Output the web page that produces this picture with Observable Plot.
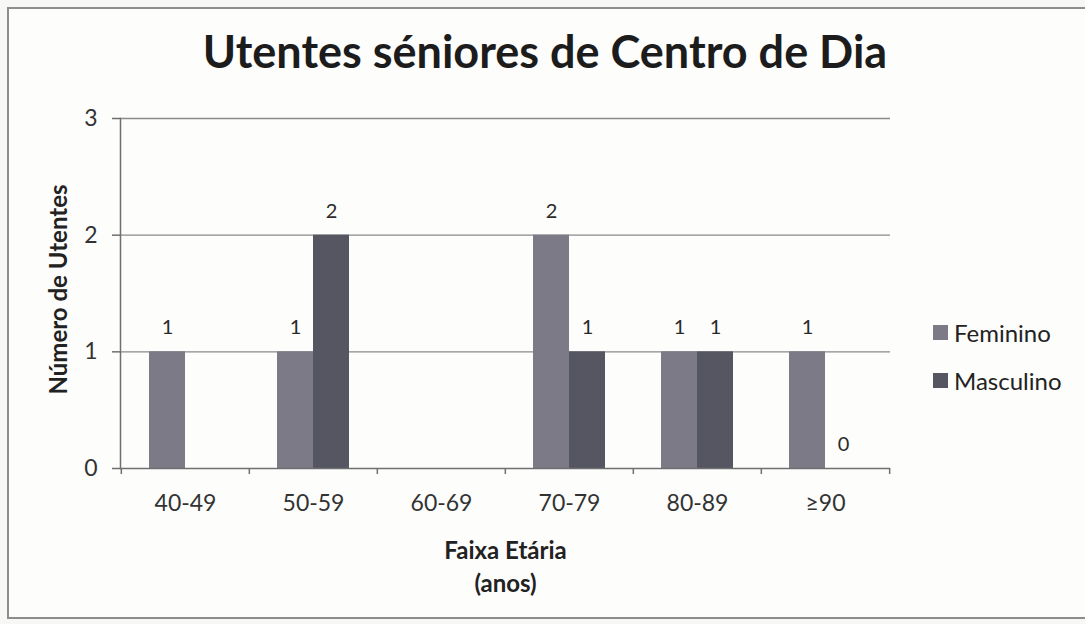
<!DOCTYPE html>
<html>
<head>
<meta charset="utf-8">
<script src="https://cdn.jsdelivr.net/npm/d3@7"></script>
<script src="https://cdn.jsdelivr.net/npm/@observablehq/plot@0.6"></script>
<style>
  html, body { margin: 0; padding: 0; background: #f7f7f6; }
  #wrap { position: relative; width: 1085px; height: 624px; overflow: hidden; background: #f7f7f6; font-family: Lato, "Open Sans", sans-serif; }
  #frame { position: absolute; left: 7px; top: 7px; width: 1090px; height: 612px; border: 2px solid #8d8d8d; background: #fdfdfc; box-sizing: border-box; }
  #title { position: absolute; left: 7px; width: 1076px; top: 24px; text-align: center; font-size: 45px; font-weight: bold; color: #1c1c1c; }
  #chart { position: absolute; left: 0; top: 100px; }
  #legend { position: absolute; left: 933px; top: 316px; font-size: 24px; color: #222; }
  #legend div { display: flex; align-items: center; height: 32px; margin-bottom: 16px; }
  #legend span.sw { display: inline-block; width: 15px; height: 15px; margin-right: 6px; }
</style>
</head>
<body>
<div id="wrap">
  <div id="frame"></div>
  <div id="title">Utentes séniores de Centro de Dia</div>
  <div id="chart"></div>
  <div id="legend"></div>
</div>
<script>
const faixas = ["40-49", "50-59", "60-69", "70-79", "80-89", "≥90"];
const feminino = [1, 1, null, 2, 1, 1];
const masculino = [null, 2, null, 1, 1, 0];
const series = ["Feminino", "Masculino"];
const seriesColors = ["#7b7a86", "#565663"];
const yTicks = [0, 1, 2, 3];

const data = faixas.flatMap((f, i) => [
  {faixa: f, sexo: series[0], n: feminino[i]},
  {faixa: f, sexo: series[1], n: masculino[i]}
]).filter(d => d.n != null);

const W = 910, H = 510, ML = 120, MR = 20;
const step = (W - ML - MR) / faixas.length;
const barW = 36;
const pad = 1 - barW / step;
const off = barW / 2;

const font = "Lato, 'Open Sans', sans-serif";

const chart = Plot.plot({
  width: W,
  height: H,
  marginLeft: ML,
  marginRight: MR,
  marginTop: 18,
  marginBottom: 142,
  style: {fontFamily: font, background: "transparent", color: "#333"},
  x: {domain: faixas, paddingInner: pad, paddingOuter: pad / 2, label: null},
  y: {domain: [0, 3], ticks: yTicks, label: null},
  color: {domain: series, range: seriesColors},
  marks: [
    Plot.ruleY([1, 2, 3], {stroke: "#8a8a8a", strokeWidth: 1.3}),
    Plot.barY(data.filter(d => d.sexo === series[0]), {x: "faixa", y: "n", fill: "sexo", dx: -off}),
    Plot.barY(data.filter(d => d.sexo === series[1]), {x: "faixa", y: "n", fill: "sexo", dx: off}),
    Plot.ruleY([0], {stroke: "#6f6f6f", strokeWidth: 1.5}),
    Plot.frame({anchor: "left", stroke: "#6f6f6f", strokeWidth: 1.5}),
    Plot.axisY({ticks: yTicks, tickSize: 8, tickPadding: 15, fontSize: 23, stroke: "#6f6f6f", strokeWidth: 1.5, label: null, tickFormat: d3.format("d")}),
    Plot.axisX({tickSize: 0, tickPadding: 26, fontSize: 23, label: null}),
    Plot.axisX(faixas, {tickSize: 6, dx: -step / 2, text: null, stroke: "#6f6f6f", strokeWidth: 1.5, label: null}),
    Plot.axisX([faixas[faixas.length - 1]], {tickSize: 6, dx: step / 2, text: null, stroke: "#6f6f6f", strokeWidth: 1.5, label: null}),
    Plot.text(data.filter(d => d.sexo === series[0]), {x: "faixa", y: "n", text: d => String(d.n), dx: -off, dy: -24, fontSize: 20, fill: "#2a2a2a"}),
    Plot.text(data.filter(d => d.sexo === series[1]), {x: "faixa", y: "n", text: d => String(d.n), dx: off, dy: -24, fontSize: 20, fill: "#2a2a2a"}),
    Plot.text(["Número de Utentes"], {frameAnchor: "left", textAnchor: "middle", lineAnchor: "middle", rotate: -90, dx: -61, dy: -4, fontSize: 24, fontWeight: "bold", fill: "#222"}),
    Plot.text(["Faixa Etária\n(anos)"], {frameAnchor: "bottom", lineAnchor: "middle", dy: 96, lineHeight: 1.375, fontSize: 24, fontWeight: "bold", fill: "#222"})
  ]
});
document.getElementById("chart").appendChild(chart);

const legend = document.getElementById("legend");
series.forEach((s, i) => {
  const row = document.createElement("div");
  const sw = document.createElement("span");
  sw.className = "sw";
  sw.style.background = seriesColors[i];
  row.appendChild(sw);
  row.appendChild(document.createTextNode(s));
  legend.appendChild(row);
});
</script>
</body>
</html>
